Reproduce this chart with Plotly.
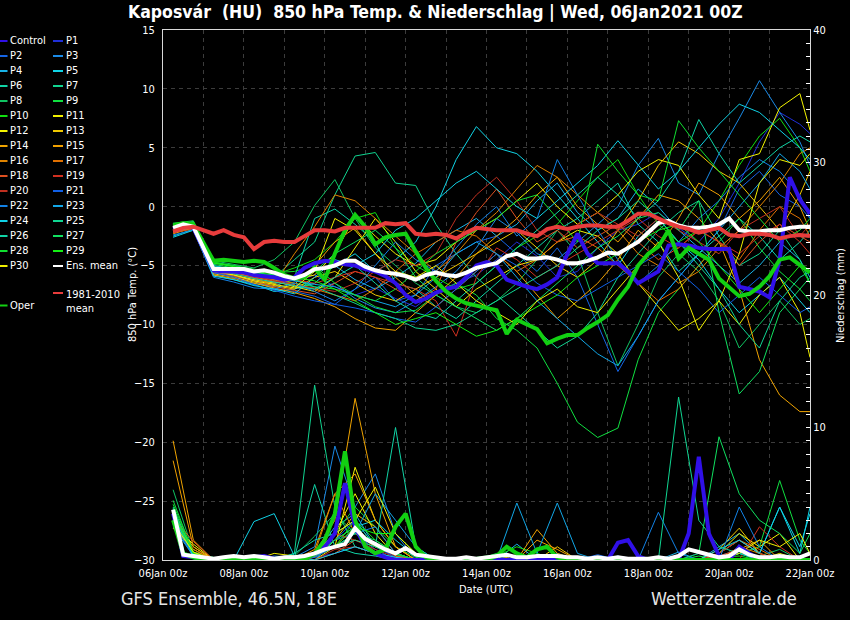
import plotly.graph_objects as go
import pandas as pd

FONT = "DejaVu Sans Condensed, DejaVu Sans, sans-serif"

# ---------------- time axes ----------------
t6 = pd.date_range("2021-01-06 06:00", "2021-01-22 00:00", freq="6h")   # 64 steps
t12 = list(t6[0::2]) + [t6[-1]]                                          # 33 steps

# ---------------- 6-hourly main series (850 hPa temperature, °C) ----------------
clim_mean = [-2.1,-1.8,-1.7,-2.0,-2.3,-2.0,-2.4,-2.6,-3.6,-3.0,
             -2.9,-3.0,-3.0,-2.5,-2.0,-2.0,-2.1,-1.8,-1.8,-1.8,
             -1.8,-1.4,-1.5,-1.4,-2.3,-2.4,-2.3,-2.4,-2.7,-2.2,
             -1.8,-1.9,-2.0,-2.0,-2.0,-2.3,-2.5,-1.9,-1.7,-1.9,
             -1.7,-1.6,-1.6,-1.7,-1.7,-1.2,-0.6,-0.6,-1.0,-1.4,
             -1.7,-1.9,-2.2,-2.0,-1.8,-2.4,-2.5,-2.3,-2.3,-2.4,
             -2.7,-2.5,-2.4,-2.5]
ens_mean = [-1.8,-1.5,-1.7,-3.5,-5.3,-5.3,-5.3,-5.3,-5.5,-5.4,
            -5.6,-5.9,-6.1,-5.8,-5.3,-5.2,-5.0,-4.6,-4.6,-5.1,
            -5.4,-5.6,-5.7,-5.9,-6.2,-5.8,-5.6,-5.8,-5.9,-5.6,
            -5.2,-5.0,-4.8,-4.2,-4.0,-4.4,-4.4,-4.3,-4.5,-4.8,
            -4.8,-4.6,-4.3,-3.9,-4.0,-3.5,-3.0,-2.2,-1.4,-1.2,
            -1.6,-1.8,-1.8,-1.7,-1.5,-1.0,-2.0,-2.1,-2.1,-2.0,
            -2.0,-1.8,-1.7,-1.7]
control = [-1.9,-1.6,-1.8,-3.6,-5.4,-5.5,-5.5,-5.6,-5.8,-5.9,
           -6.0,-6.2,-6.0,-5.2,-4.8,-4.6,-4.7,-4.9,-5.0,-5.3,
           -5.5,-5.9,-6.5,-7.5,-8.1,-7.8,-7.3,-7.0,-6.8,-6.0,
           -5.0,-4.7,-5.0,-6.2,-6.5,-6.8,-7.0,-6.6,-6.0,-4.0,
           -2.3,-4.0,-4.8,-4.8,-4.8,-5.5,-6.5,-6.0,-5.5,-3.3,
           -3.2,-3.3,-3.5,-3.6,-3.6,-3.6,-6.8,-7.0,-7.2,-7.7,
           -4.5,2.5,0.6,-0.6]
oper = [-1.6,-1.4,-1.5,-3.0,-4.6,-4.5,-4.6,-4.7,-4.6,-4.7,
        -5.2,-5.8,-6.1,-6.0,-5.2,-6.2,-4.0,-2.0,-0.7,-1.7,
        -3.2,-2.6,-2.4,-2.3,-3.8,-5.2,-6.3,-7.2,-7.8,-8.2,
        -8.4,-8.6,-8.8,-10.8,-9.6,-10.0,-10.4,-11.6,-11.2,-10.9,
        -10.9,-10.3,-9.8,-9.2,-7.9,-6.8,-5.0,-4.0,-3.4,-2.0,
        -4.4,-3.5,-4.0,-4.5,-6.1,-6.8,-7.6,-7.4,-6.8,-5.9,
        -4.5,-4.3,-4.9,-5.6]

# ---------------- 6-hourly precipitation (mm) ----------------
ens_mean_pr = [3.8,0.4,0.3,0.2,0.1,0.2,0.3,0.2,0.3,0.2,
               0.1,0.2,0.2,0.3,0.5,0.8,1.0,1.2,2.4,1.6,
               1.2,0.8,0.5,0.9,0.4,0.3,0.2,0.1,0.1,0.2,
               0.1,0.2,0.3,0.4,0.2,0.2,0.3,0.3,0.3,0.2,
               0.2,0.1,0.2,0.1,0.2,0.1,0.1,0.1,0.2,0.1,
               0.3,0.8,0.6,0.4,0.2,0.3,0.8,0.4,0.2,0.2,
               0.3,0.2,0.2,0.5]
control_pr = [3.5,0.3,0.2,0,0,0,0,0,0.2,0.3,
              0.1,0,0,0,0.5,1.0,2.0,5.8,2.5,1.0,
              0.5,0.2,0,0,0,0,0,0,0,0,
              0,0,0,0,0,0,0,0,0,0,
              0,0,0,0,1.3,1.5,0.3,0,0,0,
              0,2.0,7.8,2.0,0.3,0,1.0,0.5,0,0,
              0,0,0,0]
oper_pr = [3.0,0.5,0.2,0,0,0,0,0,0,0,
           0,0,0,0,0.5,1.5,3.5,8.2,3.0,1.0,
           0.5,0.8,2.5,3.5,1.0,0.2,0,0,0,0,
           0,0,0.3,1.0,0.5,0.2,0.8,1.0,0.2,0,
           0,0,0,0,0,0,0,0,0,0,
           0,0,0,0,0,0,0,0,0,0,
           0,0,0,0]

# ---------------- 12-hourly perturbed members: temperature (°C) ----------------
T_P1 = [-1.8,-1.5,-5.6,-5.8,-6.2,-6.5,-6.4,-5.8,-6.8,-7.5, -6.9,-7.8,-8.5,-7.2,-6.5,-5.8,-4.5,-3.0,-4.2,-6.0, -5.5,-3.5,-2.0,-1.5,-0.5,-1.8,-3.0,-1.0,2.0,5.5, 8.0,7.0,6.2]
T_P2 = [-2.0,-1.6,-5.4,-5.9,-6.3,-7.0,-7.2,-7.6,-8.3,-7.0, -6.0,-8.0,-7.5,-5.0,-4.0,-3.0,-2.5,-4.0,-5.5,-3.5, -6.0,-10.0,-14.0,-11.0,-8.0,-6.0,-4.0,-2.0,1.5,3.0, 1.0,0.0,-1.0]
T_P3 = [-1.7,-1.4,-5.2,-5.5,-6.0,-6.2,-6.8,-7.0,-6.5,-7.8, -8.6,-9.0,-8.0,-6.8,-5.5,-3.5,-1.0,-2.2,-4.0,-4.5, -3.0,-1.5,0.0,3.5,5.8,2.0,1.0,4.5,7.5,10.7, 8.0,5.5,3.5]
T_P4 = [-2.2,-1.8,-5.6,-6.0,-6.5,-6.8,-6.0,-5.5,-5.0,-6.2, -7.0,-6.0,-4.8,-3.0,-2.0,-1.0,-2.5,-1.5,0.5,2.0, -0.5,-2.0,-1.0,1.5,0.0,-2.0,-3.5,-5.0,-6.5,-5.0, -3.0,-4.5,-6.0]
T_P5 = [-2.5,-1.9,-5.8,-6.2,-6.6,-7.2,-7.0,-6.5,-5.0,-4.0, -5.5,-4.5,-3.0,0.0,4.0,6.8,5.0,4.5,3.0,1.0, -1.0,-3.0,-5.0,-2.5,-1.0,-3.0,-4.5,-7.0,-9.0,-7.5, -6.0,-8.0,-9.0]
T_P6 = [-1.6,-1.3,-5.3,-5.6,-5.9,-6.5,-6.0,-1.0,-0.2,-1.5, -3.0,-6.5,-7.0,-8.5,-9.5,-8.0,-6.5,-5.0,-3.5,-2.0, -1.0,0.5,2.0,-1.5,-3.0,-5.5,-4.0,-2.5,-1.0,-2.5, -4.5,-3.0,-2.0]
T_P7 = [-1.9,-1.5,-5.0,-5.3,-5.8,-6.0,-4.5,-3.0,1.0,4.3, 4.6,2.0,1.8,-1.5,-4.0,-6.0,-7.5,-9.0,-10.5,-12.0, -11.0,-9.0,-6.0,-4.0,-2.0,-0.5,0.5,-2.5,-5.0,-4.0, -2.0,-4.5,-6.5]
T_P8 = [-1.5,-1.4,-4.6,-4.9,-5.2,-4.5,-3.0,0.1,2.3,-1.0, -3.5,-5.0,-6.5,-7.5,-8.5,-9.0,-8.0,-6.5,-4.5,-2.0, -4.0,-9.0,-13.5,-10.0,-6.0,-4.0,-5.5,-8.0,-12.0,-10.0, -8.0,-10.0,-9.5]
T_P9 = [-1.4,-1.2,-4.8,-5.0,-5.5,-6.0,-6.5,-6.8,-7.0,-7.5, -8.5,-9.0,-8.8,-7.5,-6.5,-7.5,-9.5,-10.5,-12.0,-15.0, -18.3,-19.6,-18.8,-13.0,-9.0,-7.0,-5.0,-3.0,-1.0,-3.5, -5.5,-7.0,-8.0]
T_P10 = [-1.7,-1.5,-4.7,-5.1,-5.6,-5.8,-5.2,-4.5,-3.0,-1.0, -0.5,-3.5,-5.0,-6.0,-7.0,-6.5,-5.0,-3.5,-2.5,-1.5, 0.5,2.5,4.0,1.0,-1.5,-3.0,-2.0,0.5,3.5,6.0, 7.5,5.0,3.0]
T_P11 = [-2.0,-1.7,-5.2,-5.5,-6.0,-6.3,-6.8,-7.2,-6.0,-3.5, -1.0,-3.0,-5.5,-7.0,-8.5,-7.0,-6.0,-5.0,-4.5,-3.0, -2.0,-2.5,-4.0,-6.5,-8.5,-10.5,-9.5,-8.0,-10.0,-7.5, -6.0,-9.0,-12.8]
T_P12 = [-1.8,-1.6,-5.5,-5.8,-6.2,-6.5,-6.2,-5.8,-4.0,-0.8, -2.5,-4.0,-5.0,-4.5,-3.0,-2.0,-1.0,0.5,2.0,0.0, -1.5,-0.5,1.0,3.0,4.0,3.5,1.0,-1.0,4.0,4.5, 8.4,9.6,6.5]
T_P13 = [-2.1,-1.8,-5.7,-6.0,-6.4,-6.7,-7.0,-6.0,-5.5,-6.5, -7.5,-8.0,-7.0,-6.0,-5.0,-4.0,-3.0,-2.0,-3.5,-5.0, -6.0,-4.5,-2.0,0.5,3.5,5.5,4.5,3.0,2.0,0.0, -2.0,1.0,3.0]
T_P14 = [-2.3,-1.8,-5.8,-6.1,-6.5,-6.9,-7.3,-7.8,-8.5,-9.5, -10.3,-10.5,-9.0,-7.5,-6.0,-4.0,-2.5,-1.0,1.0,2.5, 0.0,-1.5,-3.0,-1.0,1.0,0.5,-1.0,-3.0,-7.0,-13.0, -16.0,-17.4,-17.4]
T_P15 = [-1.9,-1.6,-5.3,-5.6,-6.0,-6.4,-6.6,-5.0,-3.0,-1.8, -4.0,-6.0,-7.5,-8.5,-7.0,-5.5,-4.0,-5.5,-7.5,-9.5, -8.0,-6.5,-4.5,-2.0,-3.5,-1.0,2.0,1.0,-1.0,0.5, 2.5,0.0,-2.0]
T_P16 = [-2.0,-1.7,-5.5,-5.7,-6.1,-6.6,-4.0,-1.7,1.0,0.5, -1.0,-2.5,-4.0,-5.5,-4.0,-2.0,-0.5,1.5,3.5,2.5, 1.0,-0.5,-2.0,-4.0,-5.0,-6.5,-5.5,-3.5,-2.0,0.0, 2.0,4.5,5.0]
T_P17 = [-1.6,-1.4,-5.1,-5.4,-5.9,-6.2,-6.5,-7.0,-7.5,-8.0, -7.0,-5.5,-4.0,-3.0,-2.0,-2.5,-4.0,-5.5,-4.5,-3.0, -2.5,-3.5,-5.0,-6.5,-8.0,-7.0,-5.0,-3.0,-4.5,-2.0, 0.0,-1.0,-2.5]
T_P18 = [-2.2,-1.9,-5.6,-5.9,-6.3,-6.8,-7.1,-7.4,-6.5,-5.5, -6.0,-7.0,-8.0,-7.0,-3.0,-0.5,1.5,-1.0,-3.0,-2.0, -3.5,-2.5,-1.5,-3.0,-4.5,-3.5,-2.0,-3.0,-5.0,-3.0, -1.5,-2.5,-3.0]
T_P19 = [-1.8,-1.5,-5.4,-5.7,-6.0,-6.4,-6.2,-6.5,-6.0,-5.5, -6.0,-6.5,-7.0,-8.0,-11.0,-6.0,-3.5,-4.5,-6.0,-5.0, -4.0,-3.0,-2.0,-1.0,-2.5,-3.5,-2.0,-3.0,-4.0,-2.5, -1.5,-3.0,-4.0]
T_P20 = [-1.7,-1.5,-5.2,-5.5,-5.9,-6.3,-6.7,-6.9,-7.2,-6.5, -5.5,-4.5,-5.0,-4.0,-1.0,1.0,2.5,0.5,-2.0,-3.0, -1.5,-0.5,-1.5,-2.5,-1.0,-2.0,-3.0,-4.0,-2.0,-1.0, 0.0,-2.5,-1.5]
T_P21 = [-2.0,-1.8,-5.6,-6.0,-6.6,-7.1,-7.6,-8.0,-8.3,-8.6, -9.0,-9.5,-9.8,-8.5,-7.0,-5.5,-4.0,-5.0,-6.5,-7.5, -8.0,-7.0,-6.0,-5.0,-4.0,-5.5,-7.0,-9.0,-7.5,-6.0, -7.5,-9.0,-8.5]
T_P22 = [-2.4,-2.0,-6.0,-6.4,-6.9,-7.0,-6.5,-7.2,-8.0,-7.0, -5.0,-3.0,-4.5,-5.5,-3.5,-1.5,0.0,-2.5,-1.0,4.0, 1.0,-2.0,-4.5,-6.5,-5.0,-3.0,-1.0,0.5,2.5,4.0, 3.0,1.0,-1.0]
T_P23 = [-1.5,-1.3,-5.0,-5.4,-5.7,-6.0,-6.3,-6.6,-6.8,-7.5, -8.0,-8.5,-7.5,-6.0,-4.0,-3.0,-4.0,-6.0,-8.0,-9.5, -11.0,-12.5,-13.5,-11.0,-8.0,-6.0,-4.0,-2.0,0.0,2.0, 4.5,3.0,1.5]
T_P24 = [-2.6,-2.0,-5.9,-6.2,-6.7,-7.0,-7.4,-6.0,-4.5,-5.0, -4.0,-2.0,-1.0,0.5,2.0,3.0,1.5,0.0,-1.0,0.5, 2.0,3.5,5.6,3.5,1.5,3.0,5.0,7.0,8.7,8.0, 6.5,5.0,4.0]
T_P25 = [-1.6,-1.4,-5.1,-5.3,-5.7,-5.9,-6.2,-6.8,-7.5,-8.2, -9.0,-9.5,-10.3,-10.5,-10.0,-9.0,-8.0,-7.0,-6.0,-5.0, -3.5,-2.0,-1.0,0.5,-1.0,-3.0,-5.0,-7.0,-10.0,-12.0, -8.0,-6.0,-5.5]
T_P26 = [-1.9,-1.6,-5.4,-5.7,-6.1,-6.4,-6.7,-7.0,-6.0,-5.0, -6.5,-8.0,-9.0,-9.5,-8.0,-6.5,-5.0,-3.5,-2.0,-0.5, 1.0,2.5,1.0,-1.0,0.5,3.0,7.4,4.5,2.0,3.5, 5.0,6.0,5.5]
T_P27 = [-1.5,-1.3,-4.9,-5.2,-5.6,-5.8,-6.0,-5.5,-4.0,-3.0, -2.0,-3.5,-6.0,-7.5,-8.5,-9.5,-10.5,-9.5,-8.0,-6.5, -5.0,-3.5,-2.5,-1.0,-0.5,-2.0,0.5,-9.0,-15.9,-14.0, -9.0,-7.0,-6.0]
T_P28 = [-1.7,-1.4,-4.7,-5.0,-5.3,-5.6,-5.5,-5.0,-6.5,-7.5, -8.0,-7.0,-5.5,-4.0,-3.0,-2.0,-1.0,0.5,1.0,-1.0, -3.0,5.3,3.0,1.0,0.5,7.3,5.0,3.0,1.0,-1.0, -3.0,-2.0,-1.0]
T_P29 = [-1.6,-1.3,-4.8,-5.1,-5.5,-5.7,-6.0,-6.3,-7.0,-8.0, -9.0,-10.0,-9.5,-9.0,-10.0,-11.0,-10.5,-9.5,-8.5,-7.5, -6.0,-5.0,-4.0,-3.0,-2.0,-1.5,-3.0,-5.0,-7.0,-9.0, -7.0,-5.0,-6.5]
T_P30 = [-2.1,-1.7,-5.5,-5.8,-6.3,-6.6,-6.9,-5.5,-1.0,-2.0, -4.0,-5.5,-6.0,-5.0,-6.5,-8.0,-9.0,-10.0,-8.0,-7.0, -8.5,-9.0,-7.0,-5.0,-3.0,-6.0,-10.5,-8.0,-4.0,2.0, 4.0,3.5,4.5]

# ---------------- 12-hourly perturbed members: precipitation (mm) ----------------
R_P1 = [3.0,0.3,0.1,0,0,0,0,0.2,0.5,1.0, 0.5,0.2,0,0,0,0.1,0,0,0.3,0, 0,0,0,0,0,0,0.5,0,0,0, 0,0,0]
R_P2 = [2.8,0.4,0,0.2,0,0,0,0.5,1.5,2.0, 0.8,0,0,0,0,0,0.3,0,0,0, 0,0.4,0,0,0,0,0,0.3,0.8,0, 0,0,0]
R_P3 = [3.5,0.2,0,0,0,0.3,0.2,1.0,8.6,4.0, 6.5,2.0,0,0,0,0,0,0,0,0.5, 0,0,0,0,0,0,0,0,0.5,0, 0.3,0,0]
R_P4 = [2.5,0.3,0,0,0.2,0,0,0.4,2.5,3.5, 1.0,0.5,0,0,0,0,0,1.2,0,0, 0,0,0,0,0,0.6,0,1.0,2.0,0.5, 0,0,0]
R_P5 = [3.2,0.5,0,0,0,0,0,0,1.5,2.5, 3.0,1.5,0.3,0,0,0,0,0,0,0, 0,0,0,0,0,0,0,0.5,1.5,0.5, 4.0,0.5,4.0]
R_P6 = [4.0,0.4,0.1,0,0,0,0.2,5.7,1.0,0.5, 0.3,0,0,0,0,0,0,0,0,0, 0,0,0,0,0,0,0,0,0,0, 0,0,0]
R_P7 = [3.8,0.3,0,0,0,0,0.5,13.2,4.0,1.0, 0.5,0.2,0,0,0,0,0,0,0,0, 0,0,0,0,0,0,0,0,0,0, 0,0,0]
R_P8 = [5.3,0.6,0.2,0,0,0,0.3,1.8,3.5,2.0, 1.0,0.4,0,0,0,0,0,0,0,0, 0,0,0,0,0,0,0,0,0.5,0.3, 0.8,0,0]
R_P9 = [4.5,0.5,0,0,0,0,0,0.5,2.0,4.0, 2.5,1.0,0.2,0,0,0,0.5,0.3,0,0, 0,0,0,0,0,0,0.3,0,0.5,1.0, 6.0,1.5,0.5]
R_P10 = [3.0,0.4,0,0,0,0,0,0.3,1.0,3.0, 1.5,0.5,0,0,0,0,0.3,1.0,0.5,0, 0,0,0,0,0,0,0,0.2,0.3,0, 0.2,0,0]
R_P11 = [2.6,1.2,0,0,0,0.5,0.3,0,1.0,7.0, 3.0,1.0,0,0,0,0,0,0,0,0, 0,0,0,0,0,0,0,0,1.0,0, 0.5,0,0]
R_P12 = [2.4,0.8,0,0,0,0,0,0.5,2.0,5.0, 2.0,0.3,0,0,0,0,0,0,0,0, 0,0,0,0,0,0,0,0.5,2.0,1.0, 2.0,0,0]
R_P13 = [3.0,1.0,0,0,0,0,0,0.3,1.5,3.5, 2.5,0.5,0,0,0,0,0,0.4,0,1.0, 0,0,0,0,0,0,0,0.8,2.4,0.5, 0,0,0]
R_P14 = [9.0,1.5,0,0,0,0,0.2,0.5,3.0,12.2, 5.0,1.0,0,0,0,0,0,0,2.3,0.5, 0,0,0,0,0,0,0,0,1.0,0, 0,0,0]
R_P15 = [7.5,1.0,0,0,0,0,0,0.8,5.0,6.5, 3.0,1.0,0,0,0,0,0,0,1.5,0.8, 0,0,0,0,0,0,0,0,0.8,1.5, 0,0,0]
R_P16 = [3.5,0.5,0,0,0,0,0.3,0.5,5.0,2.0, 1.0,0.5,0,0,0,0,0,0,0,0, 0,0,0,0,0,0,0,0,1.0,0.5, 0,0,0]
R_P17 = [3.0,0.8,0,0,0,0,0,0.3,1.0,2.5, 1.0,0.5,0,0,0,0,0,0,0,0, 0,0,0,0,0,0,0,0.5,1.5,0.8, 0,0,0]
R_P18 = [3.2,1.4,0,0,0,0,0,0,0.5,1.5, 1.0,0.3,0,0,0,0,0,0,0,0, 0,0,0,0,0,0,0,0.3,0.8,0, 0,0,0]
R_P19 = [2.9,0.6,0,0,0,0,0,0.2,2.0,1.5, 0.8,0.2,0,0,0,0,0,0,0,0, 0,0,0,0,0,0,0,0,0,2.5, 1.0,0,0]
R_P20 = [3.1,0.5,0,0,0,0,0,0,0.8,1.0, 0.5,0,0,0,0,0,0,0,0,0, 0,0,0,0,0,0,0,0.5,1.5,0.5, 0,0,0]
R_P21 = [3.0,0.4,0,0.2,0,0,0,0.5,1.5,3.0, 1.0,0.2,0,0,0,0,0,0,0,0, 0,0,0.3,0,0,0,0,0,0,0, 0,0,0]
R_P22 = [2.7,0.3,0,0,0,0,0,0.2,1.0,2.0, 2.5,0.5,0,0,0,0,0,0,0,0, 0,0,0,0,3.6,0.5,0,0,4.0,1.0, 0,0,0]
R_P23 = [3.3,0.4,0,0,0,0,0,0.3,1.0,2.0, 5.0,3.0,1.0,0,0,0,0,4.3,0.5,4.3, 0.5,0,0,0,0,0,0,0,0.5,0, 0,0,0]
R_P24 = [3.6,0.3,0,0,2.9,3.5,0.3,0,0.5,1.0, 0.5,0.2,0,0,0,0,0,0,0,0, 0,0,0,0,0,0,0,0.8,1.5,0.5, 4.0,1.0,3.5]
R_P25 = [3.0,0.5,0,0,0,0,0,0.5,1.0,1.5, 1.0,0.5,0,0,0,0,0,0,0,0, 0,0,0,0,0,12.3,3.0,1.0,0.5,0, 0,0,0]
R_P26 = [3.4,0.4,0,0,0,0,0.5,1.5,2.0,3.0, 1.0,10.0,1.0,0,0,0,0,0,0,0, 0,0,0,0,0,0,0,0,0,0, 0,0,0]
R_P27 = [3.9,0.5,0,0,0,0,0,0.5,1.0,2.0, 1.5,0.5,0,0,0,0,0,0,0,0, 0,0,0,0,0,0,0.5,9.3,5.0,3.0, 2.0,0.5,2.0]
R_P28 = [4.2,0.6,0,0,0,0,0,0.3,1.5,2.5, 1.0,0.5,0,0,0,0.2,0.4,0.3,0,0, 0,0,0,0,0,0,0,0,0,0, 0,0,0]
R_P29 = [3.5,0.5,0,0,0,0,0,0.5,1.0,2.5, 2.0,2.0,0.5,0,0,0,0,0,0,0, 0,0,0,0,0,0,0,0,0,0, 0,0,0]
R_P30 = [2.8,0.6,0,0,0,0,0,0.5,2.0,3.0, 5.5,2.0,0.5,0,0,0,0,0,0,0, 0,0,0,0,0,0,0,0,0.5,1.5, 1.0,2.0,0.5]

member_names = ["P%d" % i for i in range(1, 31)]
member_colors = ["#1f2fd8", "#1565e6", "#1a8ae6", "#18b2e6", "#10d4e6", "#10d4a6",
                 "#10d490", "#10c462", "#10e040", "#10e010", "#f0f000", "#f4f400",
                 "#f0c800", "#f0a400", "#f0a000", "#e08400", "#e07000", "#e05020",
                 "#d03020", "#c03020", "#1060e6", "#1282e6", "#12a6e6", "#10d2e6",
                 "#10d692", "#10d4a6", "#10e060", "#10e030", "#14f014", "#f0f000"]
member_temp = [T_P1, T_P2, T_P3, T_P4, T_P5, T_P6, T_P7, T_P8, T_P9, T_P10,
               T_P11, T_P12, T_P13, T_P14, T_P15, T_P16, T_P17, T_P18, T_P19, T_P20,
               T_P21, T_P22, T_P23, T_P24, T_P25, T_P26, T_P27, T_P28, T_P29, T_P30]
member_prec = [R_P1, R_P2, R_P3, R_P4, R_P5, R_P6, R_P7, R_P8, R_P9, R_P10,
               R_P11, R_P12, R_P13, R_P14, R_P15, R_P16, R_P17, R_P18, R_P19, R_P20,
               R_P21, R_P22, R_P23, R_P24, R_P25, R_P26, R_P27, R_P28, R_P29, R_P30]

CONTROL_C = "#3010e8"
OPER_C = "#12d012"
MEAN_C = "#ffffff"
CLIM_C = "#e83c3c"

fig = go.Figure()

for name, c, tv in zip(member_names, member_colors, member_temp):
    assert len(tv) == len(t12), name
    fig.add_trace(go.Scatter(x=t12, y=tv, mode="lines", line=dict(color=c, width=1),
                             name=name, hoverinfo="skip"))
for name, c, pv in zip(member_names, member_colors, member_prec):
    assert len(pv) == len(t12), name
    fig.add_trace(go.Scatter(x=t12, y=pv, mode="lines", line=dict(color=c, width=1),
                             yaxis="y2", name=name + " pr", hoverinfo="skip"))

fig.add_trace(go.Scatter(x=t6, y=control_pr, mode="lines", line=dict(color=CONTROL_C, width=4), yaxis="y2", hoverinfo="skip"))
fig.add_trace(go.Scatter(x=t6, y=oper_pr, mode="lines", line=dict(color=OPER_C, width=4), yaxis="y2", hoverinfo="skip"))
fig.add_trace(go.Scatter(x=t6, y=ens_mean_pr, mode="lines", line=dict(color=MEAN_C, width=4), yaxis="y2", hoverinfo="skip"))
fig.add_trace(go.Scatter(x=t6, y=control, mode="lines", line=dict(color=CONTROL_C, width=4), hoverinfo="skip"))
fig.add_trace(go.Scatter(x=t6, y=oper, mode="lines", line=dict(color=OPER_C, width=4), hoverinfo="skip"))
fig.add_trace(go.Scatter(x=t6, y=ens_mean, mode="lines", line=dict(color=MEAN_C, width=4), hoverinfo="skip"))
fig.add_trace(go.Scatter(x=t6, y=clim_mean, mode="lines", line=dict(color=CLIM_C, width=4), hoverinfo="skip"))

GRID = "#3c3c3c"
AX = "#d8d8d8"
fig.update_layout(
    width=850, height=620,
    margin=dict(l=163, r=40, t=30, b=60),
    paper_bgcolor="black", plot_bgcolor="black",
    showlegend=False,
    font=dict(family=FONT, size=11, color="white"),
    xaxis=dict(type="date", range=["2021-01-06 00:00", "2021-01-22 00:00"],
               tick0="2021-01-06", dtick=2 * 86400000, tickformat="%d%b %Hz",
               showgrid=True, gridcolor=GRID, griddash="4px,4px", gridwidth=1,
               minor=dict(dtick=86400000, showgrid=True, gridcolor=GRID, griddash="4px,4px"),
               showline=True, linecolor=AX, linewidth=1, mirror=True,
               ticks="", ticklabelstandoff=3, zeroline=False,
               tickfont=dict(size=11, color="white")),
    yaxis=dict(range=[-30, 15], dtick=5, showgrid=True, gridcolor=GRID, griddash="4px,4px",
               showline=True, linecolor=AX, linewidth=1, mirror=True, zeroline=False,
               ticks="", ticklabelstandoff=5, tickfont=dict(size=11, color="white")),
    yaxis2=dict(range=[0, 40], dtick=10, overlaying="y", side="right", showgrid=False,
                zeroline=False, showline=True, linecolor=AX, linewidth=1,
                ticks="inside", ticklen=4, tickcolor="white",
                minor=dict(ticks="inside", dtick=1, ticklen=4, tickcolor="white"),
                tickfont=dict(size=11, color="white")),
)

def px2x(px):
    return (px - 163) / 647.0

def py2y(py):
    return (560 - py) / 530.0

shapes = []
annotations = []

# Title and captions
annotations.append(dict(text="<b>Kaposvár  (HU)  850 hPa Temp. & Niederschlag | Wed, 06Jan2021 00Z</b>",
                        x=px2x(435), y=py2y(12), xref="paper", yref="paper",
                        xanchor="center", yanchor="middle", showarrow=False,
                        font=dict(family=FONT, size=17.5, color="white")))
annotations.append(dict(text="GFS Ensemble, 46.5N, 18E", x=px2x(119), y=py2y(598),
                        xref="paper", yref="paper", xanchor="left", yanchor="middle",
                        showarrow=False, font=dict(family=FONT, size=18, color="#e6e6e6")))
annotations.append(dict(text="Wetterzentrale.de", x=px2x(649), y=py2y(598),
                        xref="paper", yref="paper", xanchor="left", yanchor="middle",
                        showarrow=False, font=dict(family=FONT, size=18, color="#e6e6e6")))
annotations.append(dict(text="Date (UTC)", x=px2x(486), y=py2y(589),
                        xref="paper", yref="paper", xanchor="center", yanchor="middle",
                        showarrow=False, font=dict(family=FONT, size=11, color="white")))
annotations.append(dict(text="850 hPa Temp. (°C)", x=px2x(132), y=py2y(295), textangle=-90,
                        xref="paper", yref="paper", xanchor="center", yanchor="middle",
                        showarrow=False, font=dict(family=FONT, size=11, color="white")))
annotations.append(dict(text="Niederschlag (mm)", x=px2x(840), y=py2y(295), textangle=-90,
                        xref="paper", yref="paper", xanchor="center", yanchor="middle",
                        showarrow=False, font=dict(family=FONT, size=11, color="white")))

# Legend (two columns)
col1 = [("Control", CONTROL_C)] + [(member_names[i], member_colors[i]) for i in range(1, 30, 2)]
col2 = [(member_names[i], member_colors[i]) for i in range(0, 30, 2)] + [("Ens. mean", MEAN_C)]

def legend_item(x0, x1, ytxt, yline, label, color):
    shapes.append(dict(type="line", xref="paper", yref="paper", x0=px2x(x0), x1=px2x(x1),
                       y0=py2y(yline), y1=py2y(yline), line=dict(color=color, width=2)))
    annotations.append(dict(text=label, x=px2x(x1 + 0.5), y=py2y(ytxt), xref="paper", yref="paper",
                            xanchor="left", yanchor="middle", showarrow=False, align="left",
                            font=dict(family=FONT, size=11, color="white")))

for k, (lab, c) in enumerate(col1):
    legend_item(0, 7.5, 40.5 + 15 * k, 41 + 15 * k, lab, c)
for k, (lab, c) in enumerate(col2):
    legend_item(53, 63, 40.5 + 15 * k, 41 + 15 * k, lab, c)

legend_item(0, 7.5, 305, 305.5, "Oper", OPER_C)
shapes.append(dict(type="line", xref="paper", yref="paper", x0=px2x(53), x1=px2x(63),
                   y0=py2y(293), y1=py2y(293), line=dict(color=CLIM_C, width=2)))
annotations.append(dict(text="1981-2010<br>mean", x=px2x(63.5), y=py2y(286), xref="paper", yref="paper",
                        xanchor="left", yanchor="top", showarrow=False, align="left",
                        font=dict(family=FONT, size=11, color="white")))

fig.update_layout(shapes=shapes, annotations=annotations)
fig.write_html("out.html",
               config={"displayModeBar": False},
               post_script="document.body.style.margin='0px';document.body.style.background='black';")
